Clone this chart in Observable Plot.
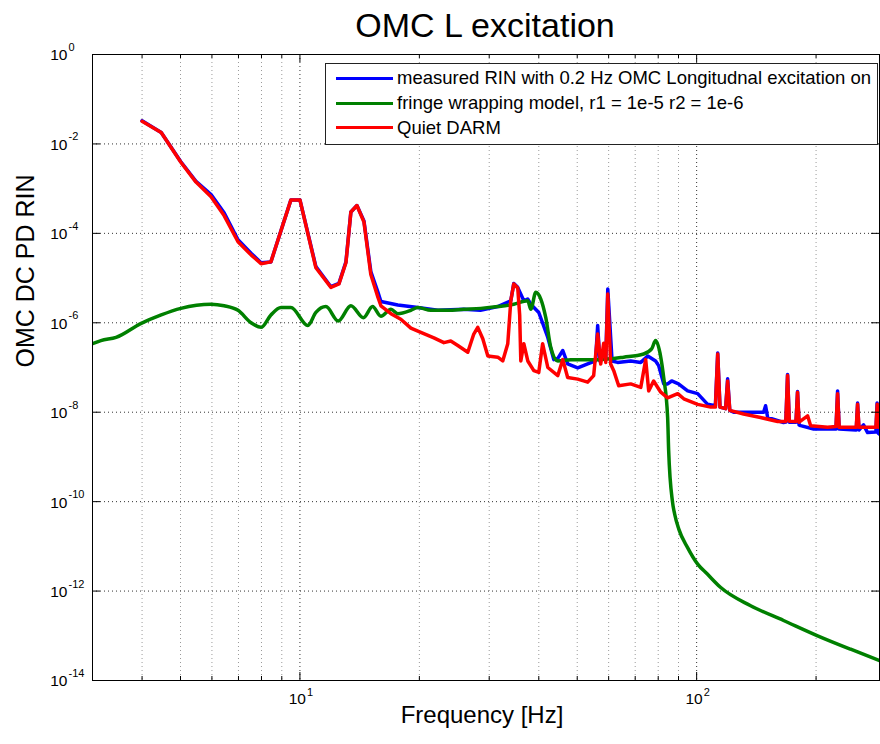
<!DOCTYPE html>
<html><head><meta charset="utf-8">
<script src="https://cdn.jsdelivr.net/npm/d3@7"></script>
<script src="https://cdn.jsdelivr.net/npm/@observablehq/plot@0.6"></script>
<style>
body{margin:0;background:#fff;font-family:"Liberation Sans",Arial,Helvetica,sans-serif;}
#wrap{position:relative;width:880px;height:744px;overflow:hidden;background:#fff;}
#title{position:absolute;left:0;top:8px;width:970px;text-align:center;font-size:34px;line-height:34px;color:#000;white-space:nowrap;}
#chart{position:absolute;left:0;top:46px;}
#legend{position:absolute;left:325px;top:63px;width:553px;height:82px;box-sizing:border-box;border:1px solid #222;background:#fff;}
.lg-line{position:absolute;left:10px;width:57px;height:3px;}
.lg-text{position:absolute;left:71px;font-size:18.5px;line-height:20px;white-space:nowrap;color:#000;}
</style>
</head><body>
<div id="wrap">
  <div id="title"></div>
  <div id="chart"></div>
  <div id="legend"></div>
</div>
<script>
// ---- data ----
const titleText = "OMC L excitation";
const xLabel = "Frequency [Hz]";
const yLabel = "OMC DC PD RIN";
const seriesNames = [
  "measured RIN with 0.2 Hz OMC Longitudnal excitation on",
  "fringe wrapping model, r1 = 1e-5 r2 = 1e-6",
  "Quiet DARM"
];
const seriesColors = ["#0000ff", "#008000", "#ff0000"];

const xMajor = [10, 100];
const xMajorExp = ["1", "2"];
const xMinor = [4, 5, 6, 7, 8, 9, 20, 30, 40, 50, 60, 70, 80, 90, 200];
const yTicks = [1, 1e-2, 1e-4, 1e-6, 1e-8, 1e-10, 1e-12, 1e-14];
const yTickExp = ["0", "-2", "-4", "-6", "-8", "-10", "-12", "-14"];

const freqBlue = [4.0, 4.47, 5.01, 5.47, 5.97, 6.44, 6.98, 7.53, 7.98, 8.45, 9.49, 10.0, 10.97, 11.97, 12.54, 13.06, 13.44, 13.92, 14.5, 15.09, 15.73, 16.0, 17.65, 19.83, 22.27, 25.88, 28.5, 31.53, 34.0, 34.6, 35.4, 36.67, 37.5, 38.19, 40.0, 42.15, 43.64, 44.67, 45.98, 47.3, 50.15, 53.13, 55.6, 56.3, 57.0, 58.3, 59.0, 59.7, 61.2, 63.2, 68.2, 72.3, 75.3, 78.8, 80.2, 82.6, 84.5, 86.5, 90.0, 94.9, 100.6, 106.6, 111.5, 113.0, 114.5, 118.3, 119.7, 121.2, 124.0, 147.5, 149.2, 151.0, 165.6, 167.8, 169.5, 171.2, 178.0, 179.6, 181.2, 182.8, 197.2, 224.5, 226.6, 228.7, 252.5, 254.5, 256.5, 263.4, 269.7, 283.0, 285.0, 287.0, 289.1];
const rinBlue = [3.3e-2, 1.8e-2, 4.0e-3, 1.45e-3, 7.4e-4, 2.9e-4, 7.2e-5, 3.6e-5, 2.2e-5, 2.3e-5, 5.6e-4, 5.6e-4, 1.8e-5, 6.4e-6, 7.6e-6, 2.3e-5, 3.0e-4, 4.2e-4, 1.9e-4, 1.4e-5, 4.8e-6, 3.0e-6, 2.5e-6, 2.2e-6, 1.9e-6, 2.0e-6, 1.9e-6, 2.3e-6, 3.1e-6, 7.6e-6, 6.2e-6, 3.1e-6, 3.4e-6, 2.6e-6, 1.7e-6, 4.7e-7, 1.5e-7, 1.6e-7, 2.4e-7, 1.2e-7, 9.8e-8, 1.2e-7, 1.4e-7, 8.7e-7, 1.4e-7, 2.4e-7, 1.5e-7, 5.7e-6, 1.4e-7, 1.3e-7, 1.4e-7, 1.3e-7, 1.8e-7, 1.4e-7, 1.1e-7, 4.3e-8, 4.3e-8, 5.0e-8, 4.3e-8, 3.0e-8, 2.6e-8, 1.5e-8, 1.4e-8, 2.1e-7, 1.3e-8, 1.2e-8, 5.6e-8, 1.1e-8, 1.0e-8, 1.0e-8, 1.4e-8, 7.6e-9, 5.9e-9, 6.0e-9, 7.0e-8, 6.0e-9, 6.0e-9, 2.9e-8, 5.2e-9, 5.0e-9, 4.2e-9, 4.2e-9, 3.0e-8, 4.2e-9, 4.0e-9, 1.6e-8, 4.0e-9, 5.2e-9, 3.5e-9, 3.6e-9, 1.6e-8, 3.4e-9, 3.2e-9];

const freqGreen = [3.0, 3.15, 3.44, 3.98, 4.47, 5.01, 5.97, 6.44, 6.98, 7.53, 7.98, 8.45, 8.96, 9.49, 10.47, 10.97, 11.63, 12.49, 13.44, 14.46, 15.24, 16.0, 16.96, 17.65, 19.04, 19.83, 21.38, 23.6, 25.88, 28.57, 31.53, 34.6, 37.53, 38.19, 39.31, 40.47, 41.66, 42.89, 44.67, 48.15, 56.3, 65.5, 73.5, 77.0, 78.8, 81.2, 82.6, 84.5, 85.0, 86.9, 88.0, 90.2, 94.8, 100.6, 106.4, 115.0, 136.8, 165.6, 201.8, 244.4, 289.1];
const rinGreen = [3.4e-7, 4.0e-7, 4.7e-7, 9.7e-7, 1.5e-6, 2.1e-6, 2.6e-6, 2.4e-6, 1.9e-6, 1.0e-6, 7.9e-7, 1.5e-6, 2.2e-6, 2.2e-6, 8.7e-7, 1.7e-6, 2.3e-6, 1.1e-6, 2.4e-6, 1.3e-6, 2.3e-6, 1.4e-6, 2.0e-6, 1.6e-6, 1.9e-6, 2.2e-6, 1.9e-6, 1.9e-6, 2.0e-6, 2.1e-6, 2.3e-6, 2.6e-6, 3.1e-6, 2.0e-6, 4.8e-6, 3.4e-6, 1.3e-6, 2.8e-7, 1.4e-7, 1.5e-7, 1.5e-7, 1.7e-7, 2.0e-7, 2.6e-7, 4.0e-7, 1.7e-7, 5.9e-8, 7.6e-9, 1.4e-9, 1.0e-10, 5.3e-11, 2.4e-11, 9.5e-12, 4.0e-12, 2.4e-12, 1.2e-12, 4.7e-13, 2.2e-13, 1.0e-13, 5.0e-14, 2.8e-14];

const freqRed = [4.0, 4.47, 5.01, 5.47, 5.97, 6.44, 6.98, 7.53, 7.98, 8.45, 9.49, 10.0, 10.97, 11.97, 12.54, 13.06, 13.44, 13.92, 14.5, 15.09, 15.73, 16.0, 16.96, 17.96, 19.04, 20.17, 21.76, 23.06, 24.0, 25.0, 26.49, 27.43, 28.07, 28.9, 29.76, 31.53, 32.45, 33.41, 34.0, 34.6, 35.4, 35.8, 36.04, 36.67, 37.53, 38.86, 40.0, 40.9, 42.15, 44.67, 45.98, 47.3, 50.15, 53.13, 55.0, 56.3, 57.3, 58.3, 59.0, 59.7, 60.7, 61.8, 63.6, 68.2, 72.3, 74.4, 75.7, 77.9, 81.2, 84.5, 89.6, 92.8, 100.6, 108.5, 111.5, 113.0, 114.5, 118.3, 119.7, 121.2, 131.3, 144.9, 160.0, 167.8, 169.5, 171.2, 178.0, 179.6, 181.2, 190.4, 193.8, 213.8, 224.5, 226.6, 228.7, 252.5, 254.5, 256.5, 283.0, 285.3, 287.5, 289.1];
const rinRed = [3.2e-2, 1.8e-2, 3.9e-3, 1.4e-3, 6.6e-4, 2.5e-4, 6.5e-5, 3.3e-5, 2.1e-5, 2.3e-5, 5.6e-4, 5.6e-4, 1.7e-5, 6.2e-6, 7.4e-6, 2.2e-5, 3.0e-4, 4.2e-4, 1.8e-4, 1.2e-5, 3.7e-6, 2.4e-6, 1.6e-6, 1.2e-6, 7.6e-7, 6.1e-7, 4.6e-7, 3.6e-7, 3.9e-7, 3.1e-7, 2.2e-7, 5.6e-7, 7.9e-7, 4.4e-7, 1.8e-7, 1.7e-7, 1.4e-7, 3.4e-7, 3.1e-6, 7.4e-6, 6.0e-6, 1.5e-6, 1.4e-7, 3.4e-7, 1.4e-7, 8.5e-8, 7.8e-8, 3.4e-7, 1.0e-7, 6.6e-8, 1.5e-7, 6.0e-8, 5.5e-8, 4.7e-8, 6.6e-8, 5.6e-7, 1.2e-7, 3.5e-7, 1.3e-7, 4.4e-6, 1.2e-7, 8.5e-8, 3.9e-8, 4.3e-8, 3.6e-8, 1.5e-7, 3.0e-8, 5.0e-8, 2.8e-8, 2.1e-8, 2.6e-8, 2.0e-8, 1.5e-8, 1.3e-8, 1.3e-8, 2.0e-7, 1.3e-8, 1.2e-8, 5.0e-8, 1.1e-8, 9.1e-9, 7.6e-9, 6.2e-9, 6.2e-9, 6.6e-8, 6.3e-9, 6.2e-9, 2.8e-8, 6.0e-9, 8.3e-9, 5.0e-9, 4.6e-9, 4.8e-9, 2.6e-8, 4.6e-9, 4.6e-9, 1.5e-8, 4.6e-9, 4.6e-9, 1.5e-8, 4.6e-9, 4.6e-9];

// ---- chart ----
const FONT = "Liberation Sans, Arial, Helvetica, sans-serif";
const W = 880, H = 698, mL = 92, mR = 1, mT = 8, mB = 64;
const innerW = W - mL - mR, innerH = H - mT - mB;
const lw = 3.5;

document.getElementById("title").textContent = titleText;

const chart = Plot.plot({
  width: W, height: H,
  marginLeft: mL, marginRight: mR, marginTop: mT, marginBottom: mB,
  style: {fontFamily: FONT, background: "white", color: "#000", overflow: "visible"},
  x: {type: "log", domain: [3, 289], axis: null},
  y: {type: "log", domain: [1e-14, 1], axis: null},
  marks: [
    Plot.ruleX(xMinor, {x: d => d, stroke: "#9a9a9a", strokeDasharray: "1,3"}),
    Plot.ruleX(xMajor, {x: d => d, stroke: "#333", strokeDasharray: "1,3"}),
    Plot.ruleY(yTicks, {y: d => d, stroke: "#333", strokeDasharray: "1,3"}),
    Plot.line(freqBlue, {x: freqBlue, y: rinBlue, stroke: seriesColors[0], strokeWidth: lw, clip: true}),
    Plot.line(freqGreen, {x: freqGreen, y: rinGreen, stroke: seriesColors[1], strokeWidth: lw, clip: true, curve: "monotone-x"}),
    Plot.line(freqRed, {x: freqRed, y: rinRed, stroke: seriesColors[2], strokeWidth: lw, clip: true}),
    Plot.frame({stroke: "#000", strokeWidth: 1}),
    // inward ticks
    Plot.tickX(xMajor, {x: d => d, insetTop: innerH - 8, stroke: "#000"}),
    Plot.tickX(xMajor, {x: d => d, insetBottom: innerH - 8, stroke: "#000"}),
    Plot.tickX(xMinor, {x: d => d, insetTop: innerH - 4, stroke: "#000"}),
    Plot.tickX(xMinor, {x: d => d, insetBottom: innerH - 4, stroke: "#000"}),
    Plot.tickY(yTicks, {y: d => d, insetRight: innerW - 8, stroke: "#000"}),
    Plot.tickY(yTicks, {y: d => d, insetLeft: innerW - 8, stroke: "#000"}),
    // x tick labels
    Plot.text(xMajor, {x: d => d, frameAnchor: "bottom", text: () => "10", textAnchor: "end", dx: 6, dy: 23, fontSize: 15.5, fill: "#000"}),
    Plot.text(xMajor, {x: d => d, frameAnchor: "bottom", text: xMajorExp, textAnchor: "start", dx: 7, dy: 15, fontSize: 11, fill: "#000"}),
    // y tick labels
    Plot.text(yTicks, {y: d => d, frameAnchor: "left", text: () => "10", textAnchor: "end", dx: -25, dy: 1, fontSize: 15.5, fill: "#000"}),
    Plot.text(yTicks, {y: d => d, frameAnchor: "left", text: yTickExp, textAnchor: "start", dx: -24, dy: -7, fontSize: 11, fill: "#000"}),
    // axis labels
    Plot.text([xLabel], {text: d => d, frameAnchor: "bottom", dx: -4, dy: 42, fontSize: 24, fill: "#000"}),
    Plot.text([yLabel], {text: d => d, frameAnchor: "left", dx: -67, rotate: -90, fontSize: 25, fill: "#000"})
  ]
});
document.getElementById("chart").appendChild(chart);

// legend
const legend = document.getElementById("legend");
const rowCenters = [14.3, 39.3, 63.7];
seriesNames.forEach((name, i) => {
  const ln = document.createElement("div");
  ln.className = "lg-line";
  ln.style.top = (rowCenters[i] - 1.5) + "px";
  ln.style.background = seriesColors[i];
  legend.appendChild(ln);
  const tx = document.createElement("div");
  tx.className = "lg-text";
  tx.style.top = (rowCenters[i] - 10) + "px";
  tx.textContent = name;
  legend.appendChild(tx);
});
</script>
</body></html>
